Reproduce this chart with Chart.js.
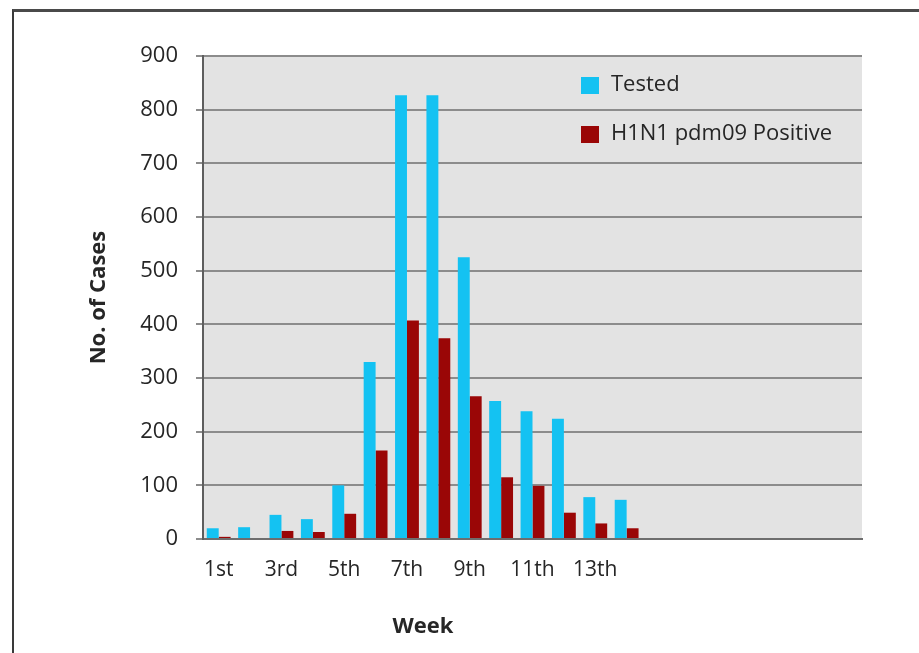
<!DOCTYPE html>
<html>
<head>
<meta charset="utf-8">
<script src="https://cdn.jsdelivr.net/npm/chart.js@4/dist/chart.umd.min.js"></script>
<style>
  html, body { margin: 0; padding: 0; background: #ffffff; overflow: hidden; }
  #wrap { position: relative; width: 919px; height: 653px; }
  #frame {
    position: absolute; left: 12px; top: 9px; width: 1000px; height: 700px;
    border-top: 3px solid #4a4a4a; border-left: 2px solid #3a3a3a; box-sizing: border-box;
  }
  canvas { position: absolute; left: 0; top: 0; }
</style>
</head>
<body>
<div id="wrap">
  <div id="frame"></div>
  <canvas id="chart" width="919" height="653"></canvas>
</div>
<script>
// Weekly surveillance counts
const weeks = ['1st','2nd','3rd','4th','5th','6th','7th','8th','9th','10th','11th','12th','13th','14th',
               '','','','','','',''];
const tested   = [20, 22, 45, 37, 100, 330, 827, 827, 525, 257, 238, 224, 78, 73];
const positive = [4, 0, 15, 13, 47, 165, 407, 374, 266, 115, 99, 49, 29, 20];
const yTicks = [0, 100, 200, 300, 400, 500, 600, 700, 800, 900];
const seriesNames = ['Tested', 'H1N1 pdm09 Positive'];
const seriesColors = ['#14c2f2', '#9a0606'];

const FONT = '"Open Sans", "Liberation Sans", sans-serif';
const TEXT = '#262626';

// grey plot background
const plotBackground = {
  id: 'plotBackground',
  beforeDraw(chart) {
    const { ctx, chartArea: a } = chart;
    ctx.save();
    ctx.fillStyle = '#e3e3e3';
    ctx.fillRect(a.left, a.top, a.right - a.left, a.bottom - a.top);
    ctx.restore();
  }
};

// legend boxes inside the plot, top right
const innerLegend = {
  id: 'innerLegend',
  afterDraw(chart) {
    const { ctx } = chart;
    ctx.save();
    ctx.font = '22px ' + FONT;
    ctx.textBaseline = 'middle';
    chart.data.datasets.forEach((ds, i) => {
      const cy = 85 + i * 49;
      ctx.fillStyle = ds.backgroundColor;
      ctx.fillRect(581, cy - 8, 18, 17);
      ctx.fillStyle = TEXT;
      ctx.fillText(ds.label, 611, cy);
    });
    ctx.restore();
  }
};

// axis titles
const axisTitles = {
  id: 'axisTitles',
  afterDraw(chart) {
    const { ctx, chartArea: a } = chart;
    ctx.save();
    ctx.fillStyle = TEXT;
    ctx.font = 'bold 22px ' + FONT;
    ctx.textAlign = 'center';
    ctx.textBaseline = 'middle';
    ctx.fillText('Week', 423, 627);
    ctx.translate(99, (a.top + a.bottom) / 2);
    ctx.rotate(-Math.PI / 2);
    ctx.fillText('No. of Cases', 0, 0);
    ctx.restore();
  }
};

new Chart(document.getElementById('chart'), {
  type: 'bar',
  data: {
    labels: weeks,
    datasets: [
      { label: seriesNames[0], data: tested, backgroundColor: seriesColors[0] },
      { label: seriesNames[1], data: positive, backgroundColor: seriesColors[1] }
    ]
  },
  plugins: [plotBackground, innerLegend, axisTitles],
  options: {
    responsive: false,
    animation: false,
    events: [],
    layout: { padding: { top: 56, right: 57, bottom: 0, left: 0 } },
    datasets: { bar: { categoryPercentage: 0.76, barPercentage: 1.0 } },
    plugins: { legend: { display: false }, tooltip: { enabled: false } },
    scales: {
      x: {
        grid: { display: false, drawTicks: false },
        border: { display: true, color: '#6e6e6e', width: 2 },
        ticks: {
          autoSkip: false, maxRotation: 0, padding: 18,
          color: TEXT, font: { family: FONT, size: 21 },
          callback: (v, i) => (i % 2 === 0 ? weeks[i] : '')
        },
        afterFit: s => { s.height = 114; }
      },
      y: {
        min: 0, max: 900,
        afterBuildTicks: s => { s.ticks = yTicks.map(v => ({ value: v })); },
        grid: { color: '#8c8c8c', lineWidth: 2, tickLength: 7, drawTicks: true },
        border: { display: true, color: '#5e5e5e', width: 2 },
        ticks: { padding: 18, color: TEXT, font: { family: FONT, size: 22 } },
        afterFit: s => { s.width = 203; }
      }
    }
  }
});
</script>
</body>
</html>
